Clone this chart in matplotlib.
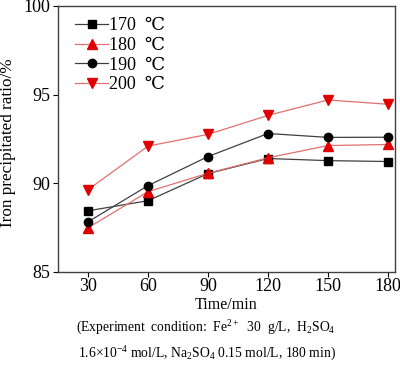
import matplotlib
matplotlib.use("Agg")
import matplotlib.pyplot as plt

plt.rcParams['font.family'] = ['Liberation Serif', 'DejaVu Serif']
plt.rcParams['mathtext.fontset'] = 'custom'
plt.rcParams['mathtext.rm'] = 'Liberation Serif'
plt.rcParams['mathtext.it'] = 'Liberation Serif:italic'

time = [30, 60, 90, 120, 150, 180]
s170 = [88.45, 89.02, 90.55, 91.40, 91.28, 91.23]
s180 = [87.49, 89.53, 90.57, 91.44, 92.13, 92.19]
s190 = [87.83, 89.87, 91.51, 92.81, 92.59, 92.60]
s200 = [89.64, 92.10, 92.76, 93.83, 94.70, 94.46]
labels = ['170  ℃', '180  ℃', '190  ℃', '200  ℃']
xticks = [30, 60, 90, 120, 150, 180]
yticks = [85, 90, 95, 100]

fig = plt.figure(figsize=(4.0, 3.66), dpi=100)
ax = fig.add_axes([58/400, 1-272/366, (395-58)/400, (272-6)/366])

dark = '#404040'
lred = '#e07070'
red = '#e00000'
ax.plot(time, s170, color=dark, lw=0.9, marker='s', ms=6, mfc='black', mec='black', label=labels[0])
ax.plot(time, s180, color=lred, lw=0.9, marker='^', ms=7, mfc=red, mec=red, label=labels[1])
ax.plot(time, s190, color=dark, lw=0.9, marker='o', ms=6, mfc='black', mec='black', label=labels[2])
ax.plot(time, s200, color=lred, lw=0.9, marker='v', ms=7, mfc=red, mec=red, label=labels[3])

ax.set_xlim(15, 183.5)
ax.set_ylim(85, 100)
ax.set_xticks(xticks)
ax.set_yticks(yticks)
ax.tick_params(direction='out', length=3.5, width=0.8, colors='black', labelsize=13)
ax.tick_params(axis='x', pad=1)
ax.tick_params(axis='y', pad=2)
for sp in ax.spines.values():
    sp.set_color('#404040')
    sp.set_linewidth(1.0)

ax.set_ylabel('Iron precipitated ratio/%', fontsize=12.3)
ax.yaxis.set_label_coords(-0.125, 0.485)

leg = ax.legend(loc='upper left', frameon=False, fontsize=13, handlelength=1.8,
                handletextpad=0.05, labelspacing=0.15, borderaxespad=0.0,
                bbox_to_anchor=(0.03, 0.985))

fig.text(226/400, 1-305/366, 'Time/min', ha='center', va='center', fontsize=11.5)
fig.text(206/400, 1-328/366, r'(Experiment  condition:  Fe$^{2+}$  30  g/L,  H$_2$SO$_4$',
         ha='center', va='center', fontsize=9.8)
fig.text(207/400, 1-354/366, r'1.6$\times$10$^{-4}$ mol/L, Na$_2$SO$_4$ 0.15 mol/L, 180 min)',
         ha='center', va='center', fontsize=9.8)

fig.savefig('out.png', dpi=100)
